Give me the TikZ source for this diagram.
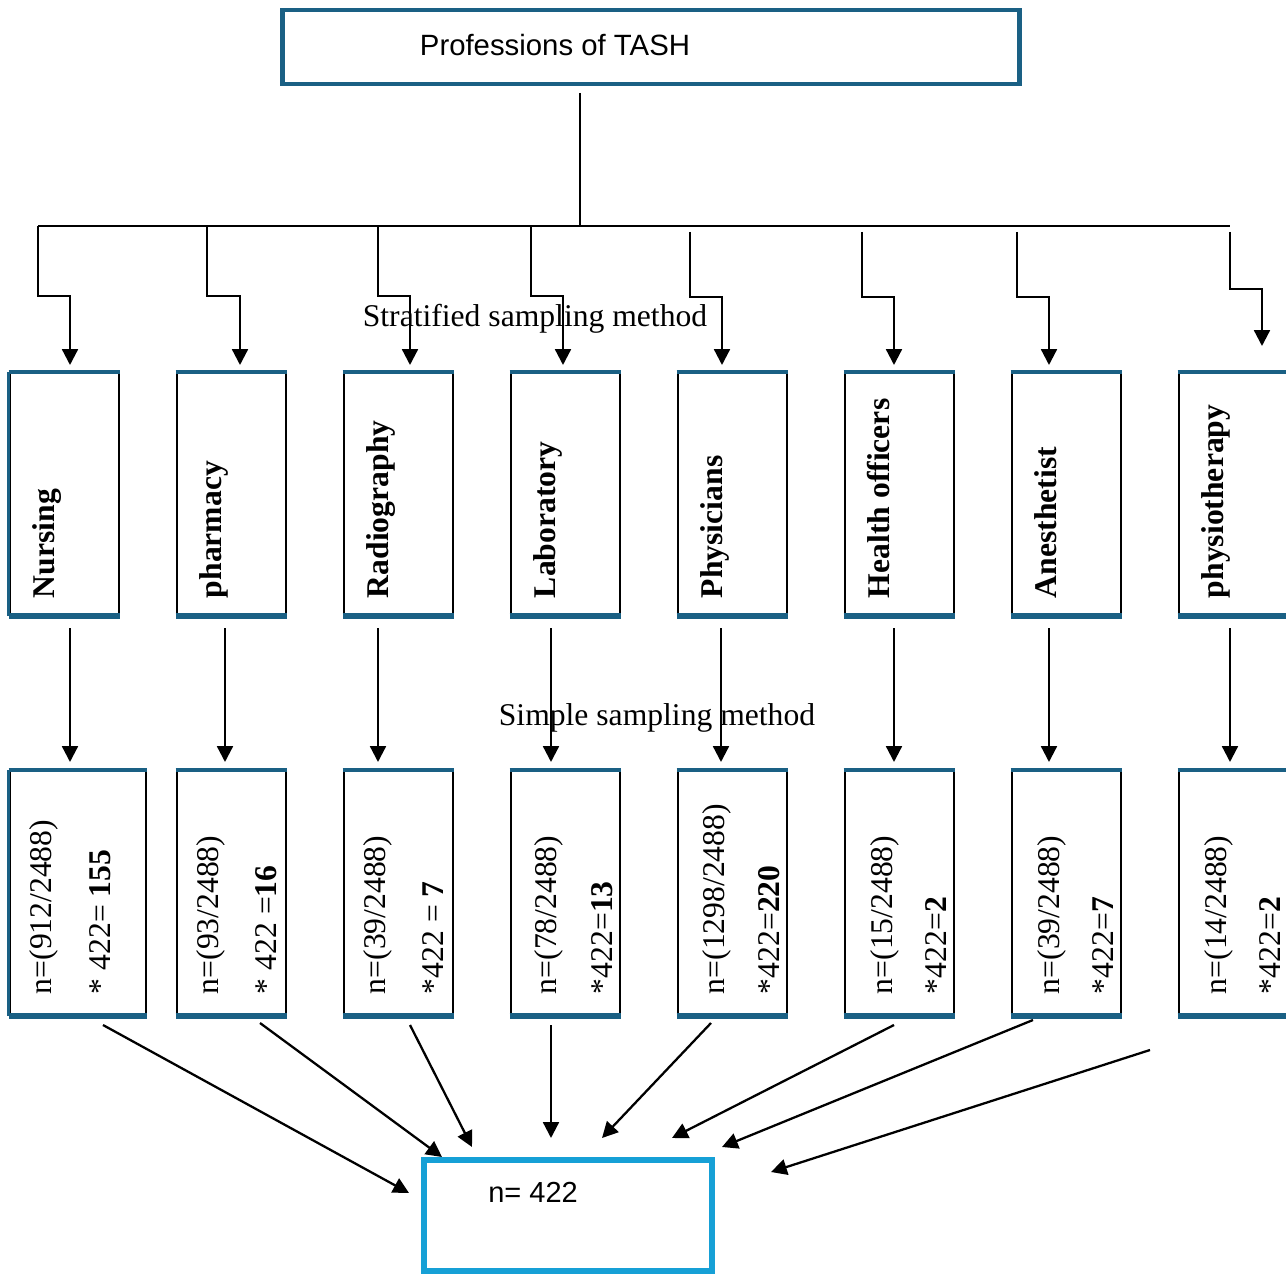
\documentclass[tikz,border=0pt]{standalone}
\usepackage{fontspec}
\setmainfont{Liberation Serif}
\newfontfamily\arialfont{Liberation Sans}
\usetikzlibrary{arrows.meta}

\definecolor{edgeblue}{RGB}{26,96,132}
\definecolor{skyblue}{RGB}{22,160,214}

\tikzset{
  profbox/.style={draw, line width=1.6pt, minimum width=2.18cm,
    minimum height=4.84cm, inner sep=0pt},
  uplabel/.style={rotate=90, anchor=base west, inner sep=0pt,
    font=\fontsize{18}{21}\selectfont\bfseries},
  cntlabel/.style={rotate=90, anchor=base west, inner sep=0pt,
    font=\fontsize{18}{21}\selectfont},
  flow/.style={-{Triangle[width=9pt,length=9pt]}, line width=1.3pt},
  rimtop/.style={edgeblue, line width=2.2pt},
  rimbot/.style={edgeblue, line width=3.4pt},
}

\begin{document}
\begin{tikzpicture}[x=0.02cm, y=-0.02cm]
  \useasboundingbox (0,0) rectangle (1286,1274);

  %% ---- TOP ----
  \node[draw=edgeblue, line width=2.8pt, minimum width=14.76cm,
    minimum height=1.48cm] (top) at (651,47) {};
  \node[font=\arialfont\fontsize{16.7}{20}\selectfont, anchor=base,
    inner sep=0pt] (toptxt) at (555,56) {Professions of TASH};

  %% trunk and bus
  \coordinate (hub) at (580,93);
  \coordinate (busmid) at (580,226);
  \coordinate (busL) at (38,226);
  \coordinate (busR) at (1230,226);
  \draw[line width=0.9pt] (hub) -- (busmid);
  \draw[line width=1pt] (busL) -- (busR);

  %% labels between rows
  \node[font=\fontsize{18}{21}\selectfont, anchor=base, inner sep=0pt]
    (strat) at (535,326) {Stratified sampling method};
  \node[font=\fontsize{18}{21}\selectfont, anchor=base, inner sep=0pt]
    (simple) at (657,725) {Simple sampling method};

  %% ---- PROFESSION BOXES ----
  \node[profbox] (p1) at (64.5,494) {};
  \node[profbox] (p2) at (231.5,494) {};
  \node[profbox] (p3) at (398.5,494) {};
  \node[profbox] (p4) at (565.5,494) {};
  \node[profbox] (p5) at (732.5,494) {};
  \node[profbox] (p6) at (899.5,494) {};
  \node[profbox] (p7) at (1066.5,494) {};
  \node[profbox] (p8) at (1233.5,494) {};
  \draw[edgeblue, line width=1.6pt] (p1.north west) -- (p1.south west);
  \foreach \i in {1,...,8} {
    \draw[rimtop] (p\i.north west) -- (p\i.north east);
    \draw[rimbot] (p\i.south west) -- (p\i.south east);
  }

  \node[uplabel] (l1) at ([shift={(46,-18)}]p1.south west) {Nursing};
  \node[uplabel] (l2) at ([shift={(46,-18)}]p2.south west) {pharmacy};
  \node[uplabel] (l3) at ([shift={(46,-18)}]p3.south west) {Radiography};
  \node[uplabel] (l4) at ([shift={(46,-18)}]p4.south west) {Laboratory};
  \node[uplabel] (l5) at ([shift={(46,-18)}]p5.south west) {Physicians};
  \node[uplabel] (l6) at ([shift={(46,-18)}]p6.south west) {Health officers};
  \node[uplabel] (l7) at ([shift={(46,-18)}]p7.south west) {Anesthetist};
  \node[uplabel] (l8) at ([shift={(46,-18)}]p8.south west) {physiotherapy};

  %% ---- COUNT BOXES ----
  \node[profbox, minimum width=2.72cm, minimum height=4.88cm] (s1) at (78,893) {};
  \node[profbox, minimum height=4.88cm] (s2) at (231.5,893) {};
  \node[profbox, minimum height=4.88cm] (s3) at (398.5,893) {};
  \node[profbox, minimum height=4.88cm] (s4) at (565.5,893) {};
  \node[profbox, minimum height=4.88cm] (s5) at (732.5,893) {};
  \node[profbox, minimum height=4.88cm] (s6) at (899.5,893) {};
  \node[profbox, minimum height=4.88cm] (s7) at (1066.5,893) {};
  \node[profbox, minimum height=4.88cm] (s8) at (1233.5,893) {};
  \draw[edgeblue, line width=1.6pt] (s1.north west) -- (s1.south west);
  \foreach \i in {1,...,8} {
    \draw[rimtop] (s\i.north west) -- (s\i.north east);
    \draw[rimbot] (s\i.south west) -- (s\i.south east);
  }

  \node[cntlabel] (c1a) at ([shift={(43,-22)}]s1.south west) {n=(912/2488)};
  \node[cntlabel] (c1b) at ([shift={(102,-22)}]s1.south west) {* 422= \textbf{155}};
  \node[cntlabel] (c2a) at ([shift={(43,-22)}]s2.south west) {n=(93/2488)};
  \node[cntlabel] (c2b) at ([shift={(101,-22)}]s2.south west) {* 422 =\textbf{16}};
  \node[cntlabel] (c3a) at ([shift={(43,-22)}]s3.south west) {n=(39/2488)};
  \node[cntlabel] (c3b) at ([shift={(101,-22)}]s3.south west) {*422 = \textbf{7}};
  \node[cntlabel] (c4a) at ([shift={(47,-22)}]s4.south west) {n=(78/2488)};
  \node[cntlabel] (c4b) at ([shift={(103,-22)}]s4.south west) {*422=\textbf{13}};
  \node[cntlabel] (c5a) at ([shift={(48,-22)}]s5.south west) {n=(1298/2488)};
  \node[cntlabel] (c5b) at ([shift={(103,-22)}]s5.south west) {*422=\textbf{220}};
  \node[cntlabel] (c6a) at ([shift={(49,-22)}]s6.south west) {n=(15/2488)};
  \node[cntlabel] (c6b) at ([shift={(103,-22)}]s6.south west) {*422=\textbf{2}};
  \node[cntlabel] (c7a) at ([shift={(49,-22)}]s7.south west) {n=(39/2488)};
  \node[cntlabel] (c7b) at ([shift={(103,-22)}]s7.south west) {*422=\textbf{7}};
  \node[cntlabel] (c8a) at ([shift={(49,-22)}]s8.south west) {n=(14/2488)};
  \node[cntlabel] (c8b) at ([shift={(103,-22)}]s8.south west) {*422=\textbf{2}};

  %% ---- TOTAL ----
  \node[draw=skyblue, line width=3.4pt, minimum width=5.76cm,
    minimum height=2.22cm] (total) at (568,1215.5) {};
  \node[font=\arialfont\fontsize{16.5}{20}\selectfont, anchor=base west,
    inner sep=0pt] (totaltxt) at (488,1202) {n= 422};

  %% ---- ARROWS ----
  %% bus to professions
  \foreach \i/\xa/\ya/\yb/\xb/\yc in {1/38/226/296/70/365, 2/207/226/296/240/365,
      3/378/226/296/410/365, 4/531/226/296/563/365, 5/690/232/297/722/365,
      6/862/232/297/894/365, 7/1017/232/297/1049/365, 8/1230/232/289/1262/346} {
    \coordinate (drop\i) at (\xa,\ya);
    \coordinate (in\i) at (\xb,\yc);
    \draw[flow] (drop\i) |- (\xb,\yb) -- (in\i);
  }

  %% professions to counts
  \foreach \i/\xa in {1/70, 2/225, 3/378, 4/551, 5/721, 6/894, 7/1049, 8/1230} {
    \coordinate (out\i) at (\xa,628);
    \coordinate (cnt\i) at (\xa,762);
    \draw[flow] (out\i) -- (cnt\i);
  }

  %% counts to total
  \foreach \i/\xa/\ya/\xb/\yb in {1/103/1025/409/1193, 2/260/1023/442/1157,
      3/410/1025/472/1147, 4/551/1025/551/1138, 5/711/1023/602/1138,
      6/894/1025/672/1138, 7/1033/1020/722/1147, 8/1150/1050/771/1172} {
    \coordinate (from\i) at (\xa,\ya);
    \coordinate (to\i) at (\xb,\yb);
    \draw[flow] (from\i) -- (to\i);
  }

\end{tikzpicture}
\end{document}
